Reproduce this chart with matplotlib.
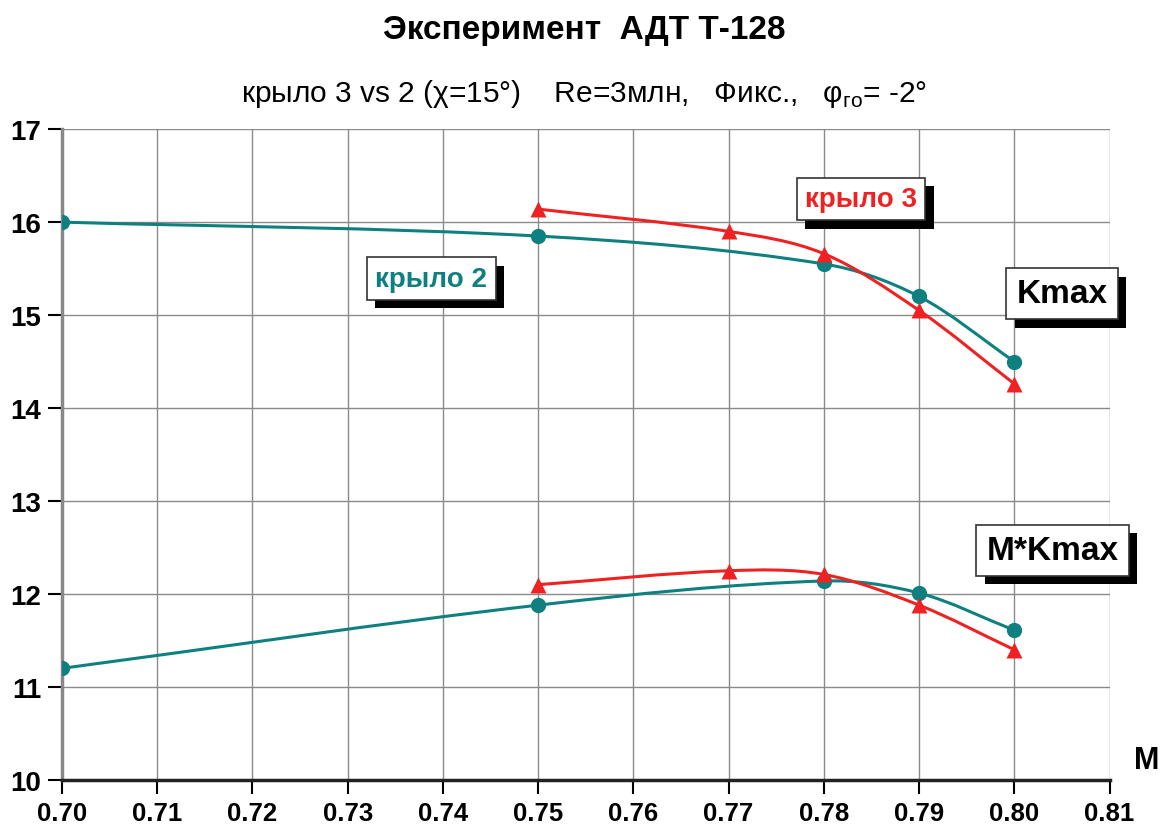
import matplotlib
matplotlib.use("Agg")
import matplotlib.pyplot as plt
from matplotlib.path import Path
from matplotlib.patches import PathPatch
import matplotlib.patheffects as pe
import numpy as np

plt.rcParams['font.family'] = ['Liberation Sans', 'DejaVu Sans']

# ---- data ----
m_w2 = [0.70, 0.75, 0.78, 0.79, 0.80]
kmax_w2 = [16.0, 15.85, 15.55, 15.2, 14.5]
mk_w2 = [11.2, 11.88, 12.14, 12.01, 11.61]

m_w3 = [0.75, 0.77, 0.78, 0.79, 0.80]
kmax_w3 = [16.14, 15.9, 15.66, 15.05, 14.26]
mk_w3 = [12.1, 12.25, 12.21, 11.88, 11.4]

x_ticks = [0.70, 0.71, 0.72, 0.73, 0.74, 0.75, 0.76, 0.77, 0.78, 0.79, 0.80, 0.81]
y_ticks = [10, 11, 12, 13, 14, 15, 16, 17]

TEAL = '#0f8080'
RED = '#ee2222'

fig = plt.figure(figsize=(11.68, 8.29), dpi=100)
ax = fig.add_axes([0.053, 0.058, 0.897, 0.785])
ax.set_xlim(0.70, 0.81)
ax.set_ylim(10, 17)


def smooth_path(xs, ys):
    x = np.asarray(xs, float)
    y = np.asarray(ys, float)
    n = len(x)
    m = np.zeros(n)
    for i in range(n):
        if i == 0:
            m[i] = (y[1] - y[0]) / (x[1] - x[0])
        elif i == n - 1:
            m[i] = (y[-1] - y[-2]) / (x[-1] - x[-2])
        else:
            m[i] = (y[i + 1] - y[i - 1]) / (x[i + 1] - x[i - 1])
    verts = [(x[0], y[0])]
    codes = [Path.MOVETO]
    for i in range(n - 1):
        h = x[i + 1] - x[i]
        verts += [(x[i] + h / 3, y[i] + m[i] * h / 3),
                  (x[i + 1] - h / 3, y[i + 1] - m[i + 1] * h / 3),
                  (x[i + 1], y[i + 1])]
        codes += [Path.CURVE4] * 3
    return Path(verts, codes)


for xs, ys, col, mk in [(m_w2, kmax_w2, TEAL, 'o'), (m_w2, mk_w2, TEAL, 'o'),
                        (m_w3, kmax_w3, RED, '^'), (m_w3, mk_w3, RED, '^')]:
    pp = PathPatch(smooth_path(xs, ys), facecolor='none', edgecolor=col, lw=2.2, zorder=3)
    ax.add_patch(pp)
    ax.scatter(xs, ys, marker=mk, color=col, s=(11 if mk == 'o' else 11.5) ** 2,
               linewidths=0, zorder=4, clip_on=True)

ax.set_xticks(x_ticks)
ax.set_yticks(y_ticks)
ax.set_xticklabels([f"{v:.2f}" for v in x_ticks], fontsize=18.5, fontweight='bold')
ax.set_yticklabels([str(v) for v in y_ticks], fontsize=20, fontweight='bold')
ax.grid(True, color='#8a8a8a', lw=1.0)
ax.set_axisbelow(True)
for s in ['top', 'right']:
    ax.spines[s].set_visible(False)
ax.spines['left'].set_color('#888888')
ax.spines['left'].set_linewidth(2.5)
ax.spines['bottom'].set_color('#222222')
ax.spines['bottom'].set_linewidth(2.5)
ax.tick_params(axis='both', direction='out', length=10, width=1.5, color='black')
ax.tick_params(axis='y', pad=5)
ax.tick_params(axis='x', pad=5)

fig.text(0.5, 0.963, 'Эксперимент  АДТ Т-128', ha='center', va='center',
         fontsize=24, fontweight='bold')
fig.text(0.5, 0.887, 'крыло 3 vs 2 (χ=15°)    Re=3млн,   Фикс.,   φ$_{\\mathregular{го}}$= -2°',
         ha='center', va='center', fontsize=21.5)
fig.text(0.982, 0.082, 'M', ha='center', va='center', fontsize=22, fontweight='bold')


def label(x, y, s, col, fs):
    t = ax.text(x, y, s, color=col, fontsize=fs, fontweight='bold', ha='center', va='center',
                zorder=6,
                bbox=dict(boxstyle='square,pad=0.3', facecolor='white', edgecolor='#333333', lw=1.2))
    t.get_bbox_patch().set_path_effects([
        pe.SimplePatchShadow(offset=(6, -6), shadow_rgbFace='black', alpha=1.0),
        pe.Normal()])
    return t


label(0.7388, 15.39, 'крыло 2', TEAL, 20)
label(0.7839, 16.25, 'крыло 3', RED, 20)
label(0.8050, 15.23, 'Kmax', 'black', 24)
label(0.8040, 12.47, 'M*Kmax', 'black', 24)

fig.savefig('out.png', dpi=100)
